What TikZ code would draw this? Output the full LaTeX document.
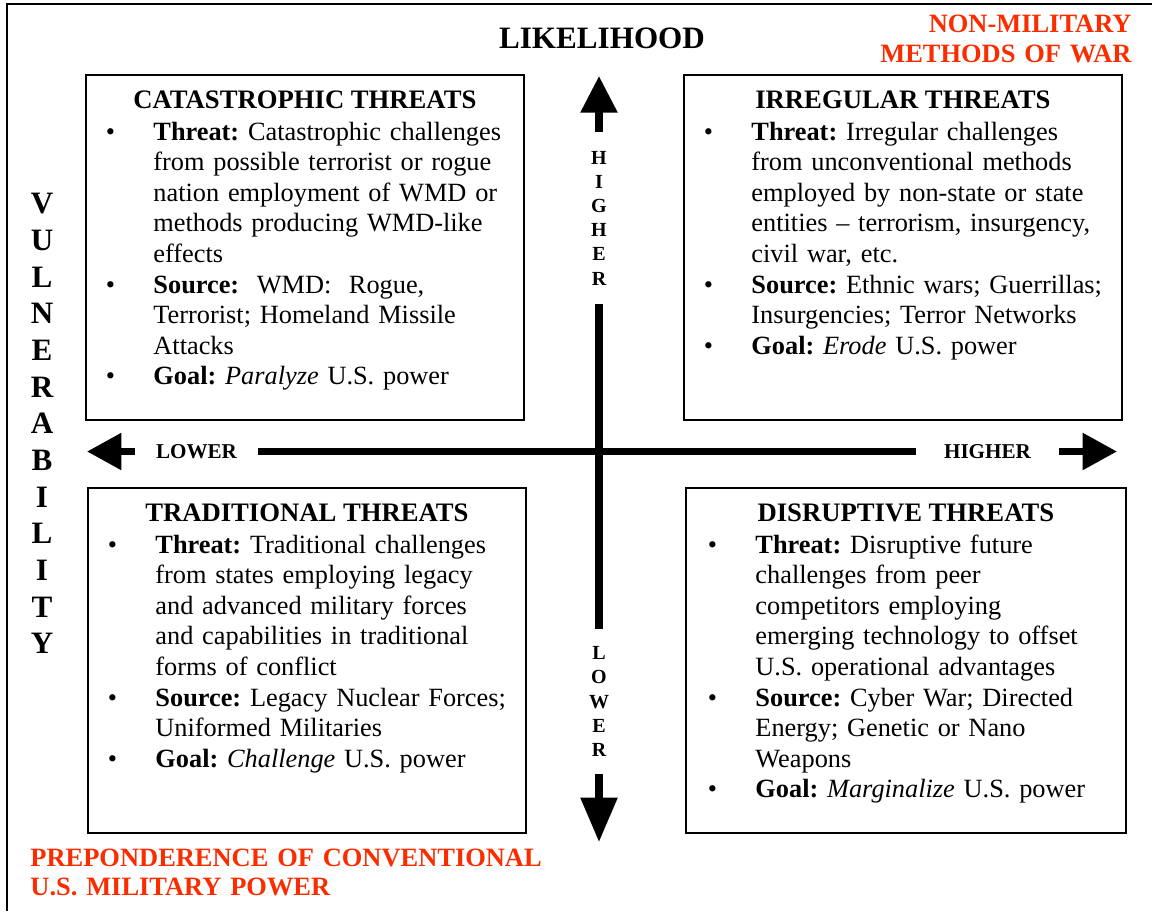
\documentclass[tikz,border=0pt]{standalone}
\usepackage{fontspec}
\setmainfont{Liberation Serif}
\usetikzlibrary{positioning, arrows.meta}

\definecolor{warred}{RGB}{250,45,0}
\newcommand{\tpoint}[1]{\leavevmode\llap{\makebox[38.7pt][c]{\textbullet}}\textbf{#1}}

\begin{document}
\begin{tikzpicture}[x=0.45pt, y=-0.45pt,
	threatbox/.style={draw, line width=0.8pt, minimum width=197.1pt, minimum height=155.25pt, inner sep=0pt, anchor=north west},
	boxtitle/.style={anchor=base, inner sep=0pt, font=\bfseries\fontsize{12}{13.77}\selectfont},
	boxbody/.style={anchor=base west, inner sep=0pt, text width=171pt, align=left, font=\frenchspacing\fontsize{11.85}{13.77}\selectfont},
	axislabel/.style={inner sep=0pt, font=\bfseries\fontsize{9.5}{11}\selectfont},
	stacklabel/.style={inner sep=0pt, align=center, font=\bfseries\fontsize{9}{10.9}\selectfont},
	redlabel/.style={inner sep=0pt, text width=260pt, text=warred, font=\frenchspacing\bfseries\fontsize{11.9}{13.3}\selectfont},
	axis/.style={line width=3.2pt},
	tip/.style={-{Triangle[length=#1, width=16pt]}}]
	\useasboundingbox (0,0) rectangle (1152,911);
	\draw[line width=0.9pt] (6.5,911) -- (6.5,4) -- (1152,4);

	% the four boxes
	\node[threatbox] (cat) at (85,74) {};
	\node[threatbox] (irr) at (683,74) {};
	\node[threatbox] (trad) at (87,487) {};
	\node[threatbox, minimum width=198pt] (dis) at (685,487) {};

	\node[boxtitle] (cat title) at ([yshift=-15.3pt]cat.north) {CATASTROPHIC THREATS};
	\node[boxtitle] (irr title) at ([yshift=-15.3pt]irr.north) {IRREGULAR THREATS};
	\node[boxtitle] (trad title) at ([yshift=-15.3pt]trad.north) {TRADITIONAL THREATS};
	\node[boxtitle] (dis title) at ([yshift=-15.3pt]dis.north) {DISRUPTIVE THREATS};

	\node[boxbody] (cat body) at ([xshift=30.6pt, yshift=-29.7pt]cat.north west) {\tpoint{Threat:} Catastrophic challenges\\
		from possible terrorist or rogue\\
		nation employment of WMD or\\
		methods producing WMD-like\\
		effects\\
		\tpoint{Source:}\ \ WMD:\ \ Rogue,\\
		Terrorist; Homeland Missile\\
		Attacks\\
		\tpoint{Goal:} \textit{Paralyze} U.S. power};
	\node[boxbody] (irr body) at ([xshift=30.6pt, yshift=-29.7pt]irr.north west) {\tpoint{Threat:} Irregular challenges\\
		from unconventional methods\\
		employed by non-state or state\\
		entities -- terrorism, insurgency,\\
		civil war, etc.\\
		\tpoint{Source:} Ethnic wars; Guerrillas;\\
		Insurgencies; Terror Networks\\
		\tpoint{Goal:} \textit{Erode} U.S. power};
	\node[boxbody] (trad body) at ([xshift=30.6pt, yshift=-29.7pt]trad.north west) {\tpoint{Threat:} Traditional challenges\\
		from states employing legacy\\
		and advanced military forces\\
		and capabilities in traditional\\
		forms of conflict\\
		\tpoint{Source:} Legacy Nuclear Forces;\\
		Uniformed Militaries\\
		\tpoint{Goal:} \textit{Challenge} U.S. power};
	\node[boxbody] (dis body) at ([xshift=31.5pt, yshift=-29.7pt]dis.north west) {\tpoint{Threat:} Disruptive future\\
		challenges from peer\\
		competitors employing\\
		emerging technology to offset\\
		U.S. operational advantages\\
		\tpoint{Source:} Cyber War; Directed\\
		Energy; Genetic or Nano\\
		Weapons\\
		\tpoint{Goal:} \textit{Marginalize} U.S. power};

	% axes
	\node[font=\bfseries\fontsize{14}{16}\selectfont, inner sep=0pt] (likely) at (602,38) {LIKELIHOOD};
	\node[stacklabel, font=\bfseries\fontsize{14}{16.5}\selectfont] (vuln) at (42,423.5) {V\\U\\L\\N\\E\\R\\A\\B\\I\\L\\I\\T\\Y};
	\node[redlabel, align=right, anchor=base east] (nonmil) at (1132,32.7) {NON-MILITARY\\METHODS OF WAR};
	\node[redlabel, align=left, anchor=base west] (conv) at (30,866) {PREPONDERENCE OF CONVENTIONAL\\U.S. MILITARY POWER};

	\coordinate (west tip) at (87,451.5);
	\coordinate (east tip) at (1117,451.5);
	\coordinate (north tip) at (599,76);
	\coordinate (south tip) at (599,842);
	\node[axislabel, minimum width=55.35pt] (low x) at (196.5,451.5) {LOWER};
	\node[axislabel, minimum width=64.35pt] (high x) at (987.5,451.5) {HIGHER};
	\node[stacklabel, minimum height=77.4pt] (high y) at (599,218) {H\\I\\G\\H\\E\\R};
	\node[stacklabel, minimum height=65.25pt] (low y) at (599,701.5) {L\\O\\W\\E\\R};

	\draw[axis, tip=15.5pt] (low x.west) -- (west tip);
	\draw[axis] (low x.east) -- (high x.west);
	\draw[axis, tip=15.5pt] (high x.east) -- (east tip);
	\draw[axis, tip=16.5pt] (high y.north) -- (north tip);
	\draw[axis] (high y.south) -- (low y.north);
	\draw[axis, tip=20pt] (low y.south) -- (south tip);
\end{tikzpicture}
\end{document}
